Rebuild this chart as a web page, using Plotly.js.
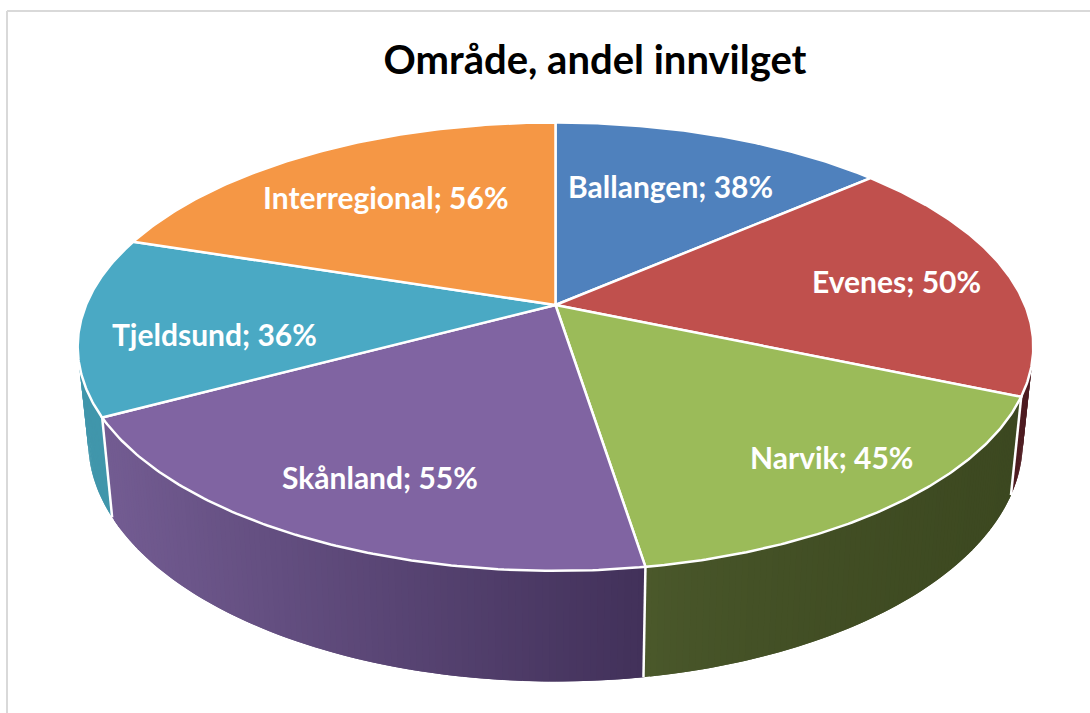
<!DOCTYPE html>
<html><head><meta charset="utf-8">
<script src="https://cdn.plot.ly/plotly-3.0.1.min.js"></script>
<style>html,body{margin:0;padding:0;background:#fff;overflow:hidden}#c{width:1090px;height:713px}</style>
</head><body><div id="c"></div>
<script>
const categories = ["Ballangen","Evenes","Narvik","Skånland","Tjeldsund","Interregional"];
const values = [38,50,45,55,36,56];
const topColors = ["#4f81bd","#c0504d","#9bbb59","#8064a2","#4aa9c4","#f59745"];
const sideLeft  = ["#2f4d71","#4e1c20","#4c5a2c","#735c92","#4096ab","#945a2a"];
const sideRight = ["#2f4d71","#4e1c20","#3c4820","#42315a","#41909f","#945a2a"];
const shadeCurve = [1,1,0.6,1,1,1];
const labelX = [670,896,831,380,214,386];
const labelY = [186,281,457,477,334,197];
const titleText = "Område, andel innvilget";

// perspective projection of the unit disc onto the page
const CX=555.5, CY=305, A=469.5, B=216.5, K=0.1857;
function topPoint(theta){
  const u=Math.sin(theta), v=-Math.cos(theta), d=1-K*v;
  return [CX+A*u/d, CY+B*v/d];
}
function bottomPoint(theta){
  const p=topPoint(theta);
  return [CX+0.978*(p[0]-CX), CY+92+1.07*(p[1]-CY)];
}
function hex(c){return [1,3,5].map(i=>parseInt(c.substr(i,2),16));}
function mix(a,b,t){
  const p=hex(a),q=hex(b);
  return "rgb("+p.map((x,i)=>Math.round(x+(q[i]-x)*t)).join(",")+")";
}
const total=values.reduce((s,x)=>s+x,0);
const traces=[];
const poly=(xs,ys,fill,lc,lw)=>traces.push({type:"scatter",mode:"lines",x:xs,y:ys,fill:"toself",fillcolor:fill,
  line:{color:lc,width:lw},hoverinfo:"skip",showlegend:false});

// side wall, drawn as narrow overlapping strips with a horizontal shade
const bounds=[0];
values.forEach(v=>bounds.push(bounds[bounds.length-1]+v/total*2*Math.PI));
values.forEach((val,i)=>{
  const a0=bounds[i],a1=bounds[i+1];
  const n=Math.max(2,Math.ceil((a1-a0)/0.012));
  const xa=topPoint(a0)[0],xb=topPoint(a1)[0];
  const lo=Math.min(xa,xb),hi=Math.max(xa,xb);
  for(let j=n-1;j>=0;j--){
    const t0=a0+(a1-a0)*j/n,t1=a0+(a1-a0)*(j+1)/n;
    if(-Math.cos((t0+t1)/2)<0.02) continue;
    const t3=Math.max(a0,t0-(a1-a0)/n);
    const p0=topPoint(t3),p1=topPoint(t1),q0=bottomPoint(t3),q1=bottomPoint(t1);
    const f=Math.min(1,Math.max(0,((p0[0]+p1[0])/2-lo)/(hi-lo)));
    const col=mix(sideLeft[i],sideRight[i],Math.pow(f,shadeCurve[i]));
    poly([p0[0],p1[0],q1[0],q0[0],p0[0]],[p0[1],p1[1],q1[1],q0[1],p0[1]],col,col,0);
  }
});
// white vertical edges between wall sections
bounds.slice(0,-1).forEach(a=>{
  if(-Math.cos(a)<0.2) return;
  const p=topPoint(a),q=bottomPoint(a);
  traces.push({type:"scatter",mode:"lines",x:[p[0],q[0]],y:[p[1],q[1]],line:{color:"#fff",width:2.5},hoverinfo:"skip",showlegend:false});
});
// top face
values.forEach((val,i)=>{
  const a0=bounds[i],a1=bounds[i+1],xs=[CX],ys=[CY],n=120;
  for(let j=0;j<=n;j++){const p=topPoint(a0+(a1-a0)*j/n);xs.push(p[0]);ys.push(p[1]);}
  xs.push(CX);ys.push(CY);
  poly(xs,ys,topColors[i],"#fff",2.5);
});

const annotations=categories.map((c,i)=>({
  text:"<b>"+c+"; "+values[i]+"%</b>",x:labelX[i],y:labelY[i],xref:"x",yref:"y",showarrow:false,
  xanchor:"center",yanchor:"middle",font:{family:"Lato, sans-serif",size:30,color:"#fff"}
}));

const layout={
  width:1090,height:713,margin:{l:0,r:0,t:0,b:0},paper_bgcolor:"#fff",plot_bgcolor:"#fff",
  xaxis:{range:[0,1090],visible:false,fixedrange:true},
  yaxis:{range:[713,0],visible:false,fixedrange:true},
  title:{text:"<b>"+titleText+"</b>",x:595/1090,xanchor:"center",y:1-60/713,yanchor:"middle",
    font:{family:"Lato, sans-serif",size:40,color:"#000"}},
  annotations,
  shapes:[
    {type:"line",x0:7,x1:1090,y0:11,y1:11,line:{color:"#d9d9d9",width:2}},
    {type:"line",x0:7,x1:7,y0:11,y1:713,line:{color:"#d9d9d9",width:2}}
  ]
};
Plotly.newPlot("c",traces,layout,{displayModeBar:false,staticPlot:true});
</script></body></html>
